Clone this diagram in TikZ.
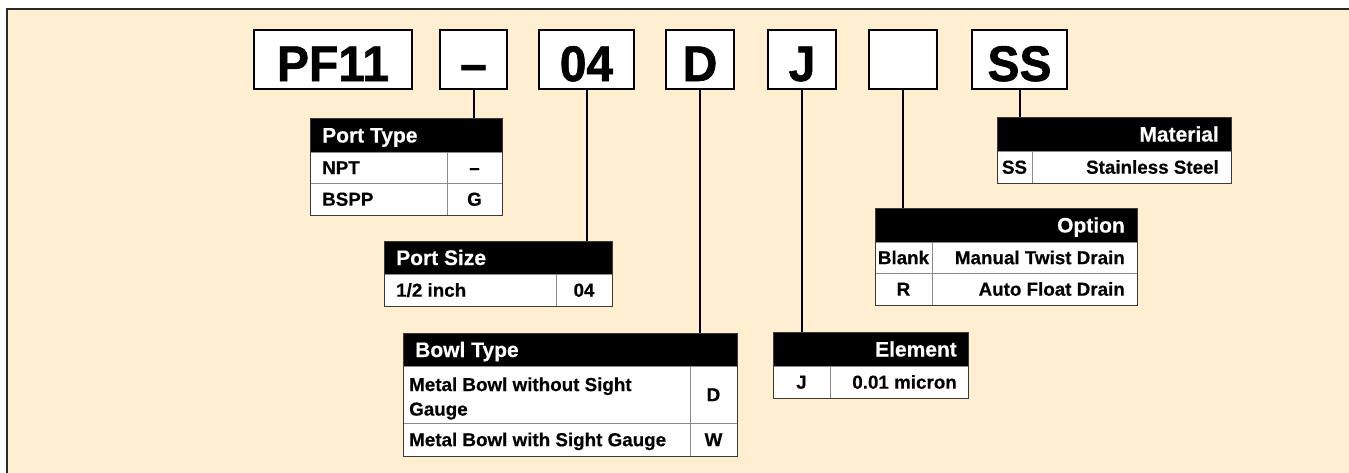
\documentclass[tikz,border=0pt]{standalone}
\usepackage{fontspec}
\setmainfont{Liberation Sans}
\newfontfamily\codefam[FakeStretch=0.96,FakeBold=1.2]{Liberation Sans}
\newfontfamily\tabfam[FakeBold=0.4]{Liberation Sans}
\newcommand\codefnt{\codefam\bfseries\fontsize{50}{50}\selectfont}
\newcommand\hdrfnt{\tabfam\bfseries\fontsize{21}{24}\selectfont}
\newcommand\rowfnt{\tabfam\bfseries\fontsize{18.8}{24.5}\selectfont}
\definecolor{bgcream}{HTML}{FFEED0}
\definecolor{framegray}{HTML}{2A2A2A}
\definecolor{cellline}{HTML}{8A8A8A}
\definecolor{tabline}{HTML}{3A3A3A}
\tikzset{
  codebox/.style={draw=black, line width=2pt, fill=white, minimum height=59, inner sep=0pt, outer sep=0pt,
    font=\codefnt, text height=43pt, text depth=0pt},
  hdrcell/.style={fill=black, draw=black, line width=0.8pt, inner sep=0pt, outer sep=0pt, anchor=north west},
  rowcell/.style={fill=white, draw=cellline, line width=0.8pt, inner sep=0pt, outer sep=0pt, anchor=north west},
  tabborder/.style={draw=tabline, line width=1pt},
  hdrtxt/.style={font=\hdrfnt, text=white, inner sep=0pt, text height=15pt, text depth=0pt},
  rowtxt/.style={font=\rowfnt, text=black, inner sep=0pt, text height=13.4pt, text depth=0pt},
  conn/.style={draw=black, line width=2pt},
}
\newcommand\tcell[6]{\node[#6, minimum width=#4-#2, minimum height=#5-#3] (#1) at (#2,#3) {};}
\begin{document}
\begin{tikzpicture}[x=1pt,y=-1pt]
\useasboundingbox (0,0) rectangle (1349,472);
\fill[white] (0,0) rectangle (1349,472);
\fill[bgcream] (6.75,8.75) rectangle (1365,485);
\draw[draw=framegray, line width=1.5pt] (1365,8.75) -- (6.75,8.75) -- (6.75,485);

% code boxes
\node[codebox, minimum width=158] (pf) at (333,59.5) {PF11};
\node[codebox, minimum width=67] (dash) at (473.5,59.5) {–};
\node[codebox, minimum width=95] (size) at (586.5,59.5) {04};
\node[codebox, minimum width=68] (bowl) at (700,59.5) {D};
\node[codebox, minimum width=68] (elem) at (802,59.5) {J};
\node[codebox, minimum width=68] (optbox) at (903,59.5) {};
\node[codebox, minimum width=95] (mat) at (1019.5,59.5) {SS};

% Port Type
\tcell{pth}{310}{118}{502}{152}{hdrcell}
\tcell{pt1a}{310}{152}{447}{183}{rowcell}
\tcell{pt1b}{447}{152}{502}{183}{rowcell}
\tcell{pt2a}{310}{183}{447}{215}{rowcell}
\tcell{pt2b}{447}{183}{502}{215}{rowcell}
\draw[tabborder] (pth.north west) rectangle (pt2b.south east);
\node[hdrtxt, anchor=west] (ptt) at ([xshift=12pt]pth.west) {Port Type};
\node[rowtxt, anchor=west] (pt1l) at ([xshift=12pt]pt1a.west) {NPT};
\node[rowtxt] (pt1r) at (pt1b.center) {–};
\node[rowtxt, anchor=west] (pt2l) at ([xshift=12pt]pt2a.west) {BSPP};
\node[rowtxt] (pt2r) at (pt2b.center) {G};

% Port Size
\tcell{psh}{384}{241}{612}{274}{hdrcell}
\tcell{ps1a}{384}{274}{556}{306}{rowcell}
\tcell{ps1b}{556}{274}{612}{306}{rowcell}
\draw[tabborder] (psh.north west) rectangle (ps1b.south east);
\node[hdrtxt, anchor=west] (pst) at ([xshift=12pt]psh.west) {Port Size};
\node[rowtxt, anchor=west] (ps1l) at ([xshift=12pt]ps1a.west) {1/2 inch};
\node[rowtxt] (ps1r) at (ps1b.center) {04};

% Bowl Type
\tcell{bth}{403}{333}{737}{366}{hdrcell}
\tcell{bt1a}{403}{366}{690}{423}{rowcell}
\tcell{bt1b}{690}{366}{737}{423}{rowcell}
\tcell{bt2a}{403}{423}{690}{456}{rowcell}
\tcell{bt2b}{690}{423}{737}{456}{rowcell}
\draw[tabborder] (bth.north west) rectangle (bt2b.south east);
\node[hdrtxt, anchor=west] (btt) at ([xshift=12pt]bth.west) {Bowl Type};
\node[font=\rowfnt, inner sep=0pt, align=left, anchor=west] (bt1l) at ([xshift=6pt,yshift=-4pt]bt1a.west) {Metal Bowl without Sight\\Gauge};
\node[rowtxt] (bt1r) at (bt1b.center) {D};
\node[rowtxt, anchor=west] (bt2l) at ([xshift=6pt]bt2a.west) {Metal Bowl with Sight Gauge};
\node[rowtxt] (bt2r) at (bt2b.center) {W};

% Element
\tcell{elh}{773}{332}{968}{366}{hdrcell}
\tcell{el1a}{773}{366}{830}{398}{rowcell}
\tcell{el1b}{830}{366}{968}{398}{rowcell}
\draw[tabborder] (elh.north west) rectangle (el1b.south east);
\node[hdrtxt, anchor=east] (elt) at ([xshift=-11pt]elh.east) {Element};
\node[rowtxt] (el1l) at (el1a.center) {J};
\node[rowtxt, anchor=east] (el1r) at ([xshift=-11pt]el1b.east) {0.01 micron};

% Option
\tcell{oph}{875}{208}{1137}{242}{hdrcell}
\tcell{op1a}{875}{242}{932}{273}{rowcell}
\tcell{op1b}{932}{242}{1137}{273}{rowcell}
\tcell{op2a}{875}{273}{932}{305}{rowcell}
\tcell{op2b}{932}{273}{1137}{305}{rowcell}
\draw[tabborder] (oph.north west) rectangle (op2b.south east);
\node[hdrtxt, anchor=east] (opttxt) at ([xshift=-12pt]oph.east) {Option};
\node[rowtxt] (op1l) at (op1a.center) {Blank};
\node[rowtxt, anchor=east] (op1r) at ([xshift=-12pt]op1b.east) {Manual Twist Drain};
\node[rowtxt] (op2l) at (op2a.center) {R};
\node[rowtxt, anchor=east] (op2r) at ([xshift=-12pt]op2b.east) {Auto Float Drain};

% Material
\tcell{mah}{997}{117}{1231}{151}{hdrcell}
\tcell{ma1a}{997}{151}{1032}{183}{rowcell}
\tcell{ma1b}{1032}{151}{1231}{183}{rowcell}
\draw[tabborder] (mah.north west) rectangle (ma1b.south east);
\node[hdrtxt, anchor=east] (mattxt) at ([xshift=-12pt]mah.east) {Material};
\node[rowtxt] (ma1l) at (ma1a.center) {SS};
\node[rowtxt, anchor=east] (ma1r) at ([xshift=-12pt]ma1b.east) {Stainless Steel};

% connectors
\draw[conn] (dash.south) -- (dash.south |- pth.north);
\draw[conn] (size.south) -- (size.south |- psh.north);
\draw[conn] (bowl.south) -- (bowl.south |- bth.north);
\draw[conn] (elem.south) -- (elem.south |- elh.north);
\draw[conn] (optbox.south) -- (optbox.south |- oph.north);
\draw[conn] (mat.south) -- (mat.south |- mah.north);
\end{tikzpicture}
\end{document}
